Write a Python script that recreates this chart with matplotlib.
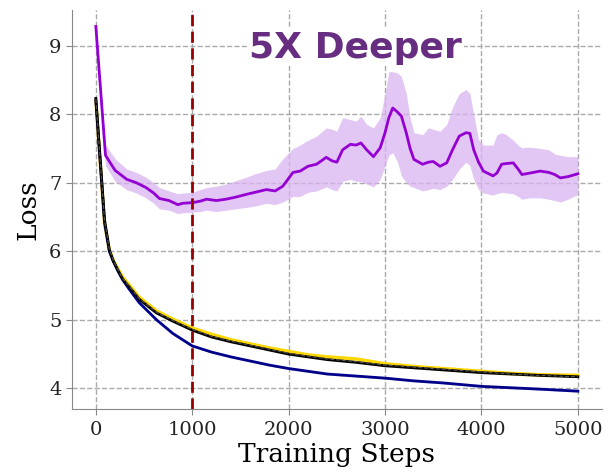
import matplotlib.pyplot as plt
import numpy as np

# purple run (5x deeper, unstable)
steps_p = [0, 100, 200, 320, 420, 520, 600, 660, 760, 850, 900, 1000, 1080, 1150, 1250, 1350, 1450,
           1560, 1650, 1770, 1860, 1940, 2045, 2120, 2200, 2290, 2390, 2450, 2500, 2560, 2640, 2700,
           2750, 2810, 2880, 2950, 3000, 3040, 3080, 3130, 3170, 3220, 3260, 3300, 3390, 3450, 3500,
           3570, 3640, 3700, 3770, 3840, 3880, 3920, 3970, 4020, 4120, 4160, 4210, 4260, 4330, 4380,
           4420, 4500, 4610, 4700, 4760, 4820, 4900, 5000]
loss_p = [9.28, 7.40, 7.18, 7.05, 7.00, 6.93, 6.85, 6.77, 6.74, 6.68, 6.70, 6.71, 6.73, 6.76, 6.74,
          6.76, 6.79, 6.83, 6.86, 6.90, 6.88, 6.95, 7.15, 7.17, 7.24, 7.27, 7.37, 7.32, 7.30, 7.48,
          7.56, 7.55, 7.58, 7.48, 7.38, 7.51, 7.73, 7.95, 8.09, 8.03, 7.97, 7.73, 7.50, 7.34, 7.27,
          7.30, 7.31, 7.24, 7.29, 7.48, 7.68, 7.73, 7.72, 7.48, 7.30, 7.17, 7.10, 7.14, 7.27, 7.28,
          7.29, 7.20, 7.12, 7.14, 7.17, 7.15, 7.12, 7.07, 7.09, 7.13]
upper_p = [9.30, 7.55, 7.35, 7.20, 7.15, 7.08, 7.00, 6.93, 6.88, 6.84, 6.85, 6.86, 6.90, 6.93, 6.95,
           6.98, 7.03, 7.08, 7.13, 7.18, 7.20, 7.35, 7.50, 7.55, 7.62, 7.68, 7.80, 7.78, 7.75, 7.95,
           7.92, 7.90, 7.97, 7.85, 7.80, 7.95, 8.30, 8.62, 8.62, 8.60, 8.55, 8.30, 7.95, 7.73, 7.70,
           7.80, 7.78, 7.75, 7.85, 8.10, 8.30, 8.36, 8.30, 8.00, 7.63, 7.55, 7.55, 7.70, 7.73, 7.70,
           7.62, 7.55, 7.51, 7.52, 7.50, 7.48, 7.42, 7.40, 7.38, 7.38]
lower_p = [9.26, 7.25, 7.02, 6.90, 6.85, 6.78, 6.70, 6.62, 6.60, 6.55, 6.56, 6.57, 6.58, 6.60, 6.58,
           6.60, 6.62, 6.64, 6.66, 6.70, 6.68, 6.72, 6.80, 6.80, 6.86, 6.88, 6.94, 6.90, 6.88, 7.02,
           7.05, 7.02, 7.02, 6.98, 6.94, 7.05, 7.25, 7.40, 7.44, 7.30, 7.10, 7.00, 6.95, 6.93, 6.88,
           6.90, 6.92, 6.90, 6.95, 7.05, 7.20, 7.30, 7.25, 7.05, 6.90, 6.85, 6.82, 6.84, 6.86, 6.85,
           6.84, 6.80, 6.76, 6.78, 6.78, 6.76, 6.74, 6.72, 6.76, 6.83]

# stable runs
steps_s = [0, 90, 140, 180, 230, 280, 340, 450, 630, 800, 1000, 1200, 1400, 1600, 1800, 2000,
           2200, 2400, 2700, 3000, 3300, 3600, 4000, 4300, 4600, 5000]
loss_k = [8.23, 6.46, 6.02, 5.86, 5.72, 5.59, 5.49, 5.30, 5.10, 4.98, 4.85, 4.75, 4.68, 4.62, 4.56,
          4.50, 4.46, 4.42, 4.38, 4.33, 4.30, 4.27, 4.23, 4.21, 4.19, 4.17]
loss_y = [8.20, 6.40, 6.02, 5.87, 5.74, 5.62, 5.52, 5.33, 5.13, 5.01, 4.88, 4.79, 4.71, 4.65, 4.59,
          4.54, 4.49, 4.46, 4.43, 4.36, 4.32, 4.29, 4.25, 4.22, 4.20, 4.19]
loss_d = [8.22, 6.45, 6.03, 5.87, 5.73, 5.60, 5.50, 5.31, 5.11, 4.99, 4.86, 4.76, 4.69, 4.63, 4.57,
          4.51, 4.47, 4.43, 4.39, 4.34, 4.31, 4.28, 4.24, 4.21, 4.19, 4.17]
loss_b = [8.20, 6.42, 6.00, 5.86, 5.71, 5.58, 5.46, 5.25, 5.00, 4.80, 4.62, 4.53, 4.46, 4.40, 4.34,
          4.29, 4.25, 4.21, 4.18, 4.15, 4.11, 4.08, 4.03, 4.01, 3.99, 3.96]

fig = plt.figure(figsize=(6.08, 4.75), dpi=100)
ax = fig.add_axes([0.118, 0.139, 0.872, 0.84])

ax.fill_between(steps_p, lower_p, upper_p, color='#d9b3f0', alpha=0.75, lw=0)
ax.fill_between(steps_s, np.array(loss_y) - 0.03, np.array(loss_y) + 0.03, color='gold', alpha=0.3, lw=0)
ax.fill_between(steps_s, np.array(loss_b) - 0.015, np.array(loss_b) + 0.015, color='navy', alpha=0.2, lw=0)

ax.plot(steps_p, loss_p, color='#9400d3', lw=2.0)
ax.plot(steps_s, loss_y, color='gold', lw=2.4)
ax.plot(steps_s, loss_b, color='#00008b', lw=2.0)
ax.plot(steps_s, loss_k, color='black', lw=2.0)
ax.plot(steps_s, loss_d, color='#555555', lw=0.8, ls='--')

ax.axvline(1000, color='#990000', ls='--', lw=2.0, dashes=(4, 2))

ax.set_xlim(-250, 5250)
ax.set_ylim(3.7, 9.52)
ax.set_xticks([0, 1000, 2000, 3000, 4000, 5000])
ax.set_yticks([4, 5, 6, 7, 8, 9])
ax.grid(True, color='#aaaaaa', ls='--', lw=1.0)
ax.set_axisbelow(True)
for s in ['top', 'right']:
    ax.spines[s].set_visible(False)
for s in ['left', 'bottom']:
    ax.spines[s].set_color('#888888')
ax.tick_params(colors='#888888', labelcolor='#222222', labelsize=14, length=4)
ax.tick_params(axis='x', pad=5)
for lab in ax.get_xticklabels() + ax.get_yticklabels():
    lab.set_family('DejaVu Serif')

ax.set_xlabel('Training Steps', family='DejaVu Serif', fontsize=19, labelpad=2)
ax.set_ylabel('Loss', family='DejaVu Serif', fontsize=19, labelpad=6)

ax.text(0.536, 0.905, '5X Deeper', transform=ax.transAxes, ha='center', va='center',
        family='DejaVu Sans', fontweight='bold', fontsize=26, color='#662d80',
        bbox=dict(facecolor='white', edgecolor='none', pad=1))

fig.savefig('out.png', dpi=100)
